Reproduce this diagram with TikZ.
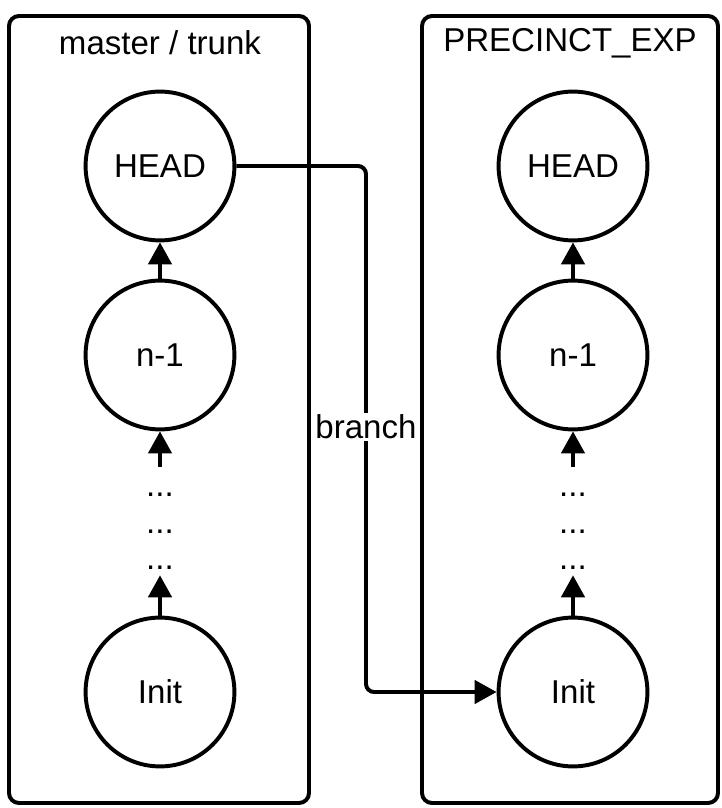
\documentclass[tikz,border=0pt]{standalone}
\usepackage{fontspec}
\setmainfont{Liberation Sans}
\usetikzlibrary{arrows.meta}
\tikzset{
    commit/.style={draw, circle, line width=2.8pt, minimum size=3.72cm, inner sep=0pt},
    branchbox/.style={draw, line width=2.8pt, rounded corners=0.25cm},
    arr/.style={-{Triangle[length=0.55cm, width=0.58cm]}, line width=2.8pt},
    dots/.style={inner sep=0pt, minimum height=2.7cm, align=center, font=\fontsize{23.5pt}{26.3pt}\selectfont},
}
\begin{document}
\begin{tikzpicture}[x=0.025cm, y=-0.025cm, font=\fontsize{23.5pt}{28pt}\selectfont]
        \useasboundingbox (0, 0) rectangle (722, 808);
        \draw [branchbox] (9, 16) rectangle (309, 803);
        \draw [branchbox] (422, 16) rectangle (718, 803);
        \node (ltitle) at (160, 43) {master / trunk};
        \node (rtitle) at (570, 43) {PRECINCT\_EXP};
        \foreach \x/\n in {160/l, 573/r}{
                \node [commit] (\n head) at (\x, 166) {HEAD};
                \node [commit] (\n n1) at (\x, 355) {n-1};
                \node [dots] (\n dots) at (\x, 521) {\rule{0pt}{0.6cm}...\\...\\...};
                \node [commit] (\n init) at (\x, 692) {Init};
                \draw [arr] (\n n1) -- (\n head);
                \draw [arr] (\n dots) -- (\n n1);
                \draw [arr] (\n init) -- (\n dots);
            }
            \coordinate (bend) at (366, 427);
            \draw [arr, rounded corners=0.2cm] (lhead.east) -| (bend) |- (rinit.west);
            \node [fill=white, inner sep=1pt] (brlabel) at (bend) {branch};
    \end{tikzpicture}
\end{document}
